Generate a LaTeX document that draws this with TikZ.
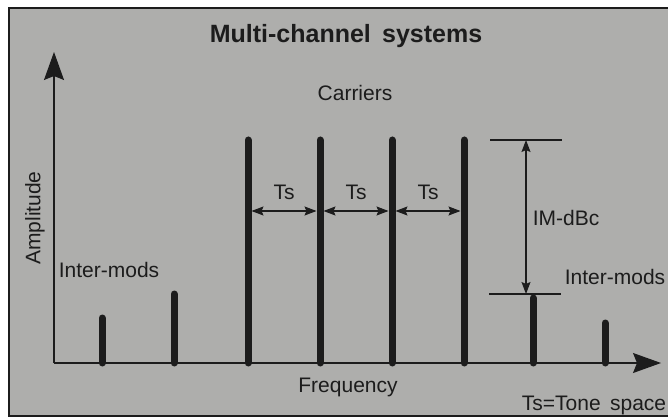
\documentclass[tikz,border=0pt]{standalone}
\usepackage{fontspec}
\setmainfont{Liberation Sans}
\usetikzlibrary{arrows.meta}
\definecolor{paper}{HTML}{AEAEAC}
\definecolor{ink}{HTML}{1C1C1C}
\begin{document}
\begin{tikzpicture}[x=1pt,y=-1pt,
  bar/.style={line width=7pt, line cap=round, draw=ink},
  axis/.style={line width=1.1pt, draw=ink, -{Stealth[length=28pt,width=20pt,inset=4pt]}},
  dimarrow/.style={line width=1.1pt, draw=ink, {Stealth[length=12pt,width=9pt,inset=2pt]}-{Stealth[length=12pt,width=9pt,inset=2pt]}},
  tick/.style={line width=1.1pt, draw=ink},
  lbl/.style={font=\fontsize{21}{21}\selectfont, text=ink, inner sep=0pt},
  ttl/.style={font=\fontsize{25}{25}\selectfont\bfseries, text=ink, inner sep=0pt},
]
\useasboundingbox (0,0) rectangle (668,419);
\fill[white] (0,0) rectangle (668,419);
\fill[paper] (9,8) rectangle (668,416);
\draw[ink, line width=1.2pt] (668,8) -- (9,8) -- (9,416) -- (668,416);

% axes
\coordinate (O) at (54,363);
\coordinate (ytip) at (54,52);
\coordinate (xtip) at (661,363);
\draw[axis] (O) -- (ytip);
\draw[axis] (O) -- (xtip);

% carriers
\foreach \n/\x in {1/248,2/320,3/392,4/464} {
  \coordinate (ct\n) at (\x,140);
  \coordinate (cb\n) at (\x,363);
  \coordinate (cs\n) at (\x,211);
  \draw[bar] (cb\n) -- (ct\n);
}

% inter-mods
\coordinate (mt1) at (102,318); \coordinate (mb1) at (102,363);
\coordinate (mt2) at (174,294); \coordinate (mb2) at (174,363);
\coordinate (mt3) at (533,298); \coordinate (mb3) at (533,363);
\coordinate (mt4) at (605,323); \coordinate (mb4) at (605,363);
\foreach \n in {1,2,3,4} { \draw[bar] (mb\n) -- (mt\n); }

% tone spacing arrows
\draw[dimarrow, shorten <=3.5pt, shorten >=3.5pt] (cs1) -- (cs2);
\draw[dimarrow, shorten <=3.5pt, shorten >=3.5pt] (cs2) -- (cs3);
\draw[dimarrow, shorten <=3.5pt, shorten >=3.5pt] (cs3) -- (cs4);
\node[lbl] (ts1) at (284,192) {Ts};
\node[lbl] (ts2) at (356,192) {Ts};
\node[lbl] (ts3) at (428,192) {Ts};

% IM-dBc
\coordinate (imtopL) at (490,140); \coordinate (imtopR) at (562,140);
\coordinate (imbotL) at (489,294); \coordinate (imbotR) at (561,294);
\coordinate (imA) at (526,140); \coordinate (imB) at (526,294);
\draw[tick] (imtopL) -- (imtopR);
\draw[tick] (imbotL) -- (imbotR);
\draw[dimarrow] (imA) -- (imB);
\node[lbl] (imdbc) at (566,218) {IM-dBc};

% labels
\node[ttl] (title) at (346,36) {Multi-channel\hspace{0.45em}systems};
\node[lbl] (carriers) at (355,93) {Carriers};
\node[lbl, rotate=90] (amp) at (35,218) {Amplitude};
\node[lbl] (imL) at (109,270) {Inter-mods};
\node[lbl] (imR) at (615,277) {Inter-mods};
\node[lbl] (freq) at (348,387) {Frequency};
\node[lbl] (tone) at (594,405) {Ts=Tone\hspace{0.45em}space};
\end{tikzpicture}
\end{document}
